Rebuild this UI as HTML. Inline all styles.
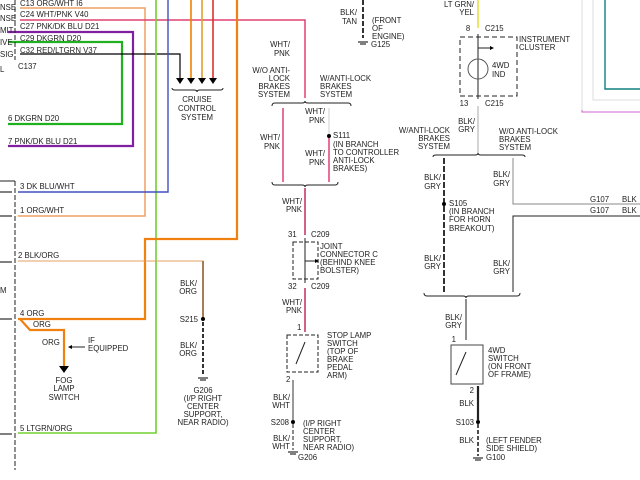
<!DOCTYPE html>
<html><head><meta charset="utf-8"><style>
html,body{margin:0;padding:0;background:#fff;}
svg{display:block;}
text{font-family:"Liberation Sans",sans-serif;font-size:7.8px;fill:#222;}
</style></head><body>
<svg width="640" height="480" viewBox="0 0 640 480" xmlns="http://www.w3.org/2000/svg">
<g fill="none" stroke-linejoin="miter">
<polyline points="20,8 145,8 145,216 18,216" stroke="#f0a060" stroke-width="1.5"/>
<polyline points="20,20 305,20 305,98" stroke="#e04070" stroke-width="1.5"/>
<polyline points="8,32 133,32 133,146 8,146" stroke="#8020a0" stroke-width="2.2"/>
<polyline points="8,42 122,42 122,124 8,124" stroke="#20b020" stroke-width="2.2"/>
<polyline points="20,54 180,54 180,78" stroke="#000" stroke-width="1.2"/>
<line x1="191" y1="0" x2="191" y2="78" stroke="#f08000" stroke-width="1.6"/>
<line x1="202" y1="0" x2="202" y2="78" stroke="#e0a030" stroke-width="1.6"/>
<line x1="213" y1="0" x2="213" y2="78" stroke="#e03030" stroke-width="1.6"/>
<polyline points="156,0 156,433 18,433" stroke="#70d030" stroke-width="1.6"/>
<polyline points="168,0 168,192 18,192" stroke="#4050c0" stroke-width="1.4"/>
<polyline points="237,0 237,239 145,239 145,319 18,319" stroke="#f08010" stroke-width="2.2"/>
<polyline points="20,319 30,330 64,330 64,368" stroke="#f08010" stroke-width="2.2"/>
<polyline points="18,261 203,261 203,319" stroke="#e0a060" stroke-width="1.1"/>
<line x1="203" y1="261" x2="203" y2="319" stroke="#906030" stroke-width="1.6"/>
<line x1="203" y1="322" x2="203" y2="374" stroke="#000" stroke-width="1.6" stroke-dasharray="4,2"/>
<line x1="85" y1="347" x2="70" y2="347" stroke="#222" stroke-width="1"/>
<polyline points="0,181 15,181" stroke="#222"/>
<line x1="15" y1="181" x2="15" y2="470" stroke="#222" stroke-dasharray="5,2"/>
<line x1="15" y1="0" x2="15" y2="60" stroke="#222" stroke-dasharray="5,2"/>
<path d="M172,88 q0,2 3,2 h19 q3,0 3,2 q0,-2 3,-2 h20 q3,0 3,-2" stroke="#222"/>
<path d="M272,106 q0,-3 3,-3 h27 q3,0 3,-2 q0,2 3,2 h40 q3,0 3,3" stroke="#222"/>
<line x1="283" y1="108" x2="283" y2="182" stroke="#e04070" stroke-width="1.5"/>
<line x1="329" y1="108" x2="329" y2="134" stroke="#ccc" stroke-width="1"/>
<line x1="329" y1="137" x2="329" y2="182" stroke="#e04070" stroke-width="1.5"/>
<path d="M272,182 q0,3 3,3 h27 q3,0 3,2 q0,-2 3,-2 h27 q3,0 3,-3" stroke="#222"/>
<line x1="305" y1="188" x2="305" y2="235" stroke="#c03060" stroke-width="1.5"/>
<rect x="293" y="242" width="25" height="37" stroke="#222" stroke-dasharray="4,2"/>
<line x1="305" y1="238" x2="305" y2="283" stroke="#222"/>
<line x1="305" y1="261" x2="315" y2="261" stroke="#222"/>
<line x1="305" y1="288" x2="305" y2="332" stroke="#c03060" stroke-width="1.5"/>
<rect x="287" y="335" width="31" height="37" stroke="#222" stroke-dasharray="4,2"/>
<line x1="305" y1="342" x2="296" y2="364" stroke="#222"/>
<line x1="293" y1="380" x2="293" y2="420" stroke="#999" stroke-width="2"/>
<line x1="293" y1="424" x2="293" y2="450" stroke="#666" stroke-width="1.5" stroke-dasharray="4,2"/>
<line x1="363" y1="0" x2="363" y2="38" stroke="#000" stroke-width="1.6" stroke-dasharray="5,2"/>
<line x1="478" y1="0" x2="478" y2="28" stroke="#e8e040" stroke-width="1.6"/>
<rect x="460" y="37" width="57" height="59" stroke="#222" stroke-dasharray="5,3"/>
<line x1="478" y1="34" x2="478" y2="99" stroke="#222"/>
<line x1="478" y1="48" x2="490" y2="48" stroke="#222"/>
<circle cx="478" cy="69" r="10" stroke="#555"/>
<line x1="478" y1="106" x2="478" y2="153" stroke="#aaa"/>
<path d="M433,157 q0,-2 3,-2 h39 q3,0 3,-2 q0,2 3,2 h41 q3,0 3,2" stroke="#222"/>
<line x1="444" y1="158" x2="444" y2="292" stroke="#000" stroke-width="1.6" stroke-dasharray="6,2"/>
<polyline points="513,158 513,204 640,204" stroke="#888"/>
<polyline points="640,216 513,216 513,292" stroke="#222"/>
<path d="M424,293 q0,3 3,3 h36 q3,0 3,2 q0,-2 3,-2 h48 q3,0 3,-3" stroke="#222"/>
<line x1="466" y1="299" x2="466" y2="340" stroke="#555" stroke-width="1.3"/>
<rect x="451" y="345" width="32" height="39" stroke="#444"/>
<line x1="466" y1="352" x2="456" y2="375" stroke="#222"/>
<line x1="478" y1="386" x2="478" y2="420" stroke="#222" stroke-width="2.2"/>
<line x1="478" y1="424" x2="478" y2="456" stroke="#222" stroke-width="1.6" stroke-dasharray="4,2"/>
<polyline points="605,0 605,89 640,89" stroke="#108080" stroke-width="1.4"/>
<polyline points="593,0 593,100 640,100" stroke="#ddd" stroke-width="1"/>
<polyline points="582,0 582,112 640,112" stroke="#d060d0" stroke-width="1"/>
<line x1="582" y1="0" x2="582" y2="110" stroke="#ddd"/>
</g>
<g fill="#000">
<polygon points="176,78 184,78 180,84"/><polygon points="187,78 195,78 191,84"/>
<polygon points="198,78 206,78 202,84"/><polygon points="209,78 217,78 213,84"/>
<polygon points="59,366 69,366 64,373"/>
<polygon points="68,347 72,345 72,349"/>
<circle cx="203" cy="319" r="2"/><circle cx="329" cy="136" r="2"/>
<circle cx="444" cy="204" r="2"/><circle cx="293" cy="422" r="2"/><circle cx="478" cy="422" r="2"/>
<polygon points="490,46 494,48 490,50"/><polygon points="315,259 319,261 315,263"/>
</g>
<g stroke="#000" stroke-width="1">
<line x1="198" y1="378" x2="208" y2="378"/><line x1="200" y1="380" x2="206" y2="380"/>
<line x1="358" y1="42" x2="368" y2="42"/><line x1="360" y1="44" x2="366" y2="44"/>
<line x1="288" y1="452" x2="298" y2="452"/><line x1="290" y1="454" x2="296" y2="454"/>
<line x1="473" y1="458" x2="483" y2="458"/><line x1="475" y1="460" x2="481" y2="460"/>
<line x1="0" y1="192" x2="12" y2="192"/><line x1="0" y1="216" x2="12" y2="216"/>
<line x1="0" y1="262" x2="12" y2="262"/><line x1="0" y1="319" x2="12" y2="319"/>
<line x1="0" y1="434" x2="12" y2="434"/>
</g>
<text x="0" y="10">NSE</text><text x="0" y="21">NSE</text><text x="0" y="33">MIT</text>
<text x="0" y="45">IVE</text><text x="0" y="57">SIG</text><text x="0" y="72">L</text>
<text x="20" y="6">C13  ORG/WHT   I6</text>
<text x="20" y="17">C24  WHT/PNK    V40</text>
<text x="20" y="29">C27  PNK/DK BLU    D21</text>
<text x="20" y="41">C29  DKGRN   D20</text>
<text x="20" y="53">C32  RED/LTGRN      V37</text>
<text x="18" y="69">C137</text>
<text x="8" y="121">6   DKGRN   D20</text>
<text x="8" y="144">7  PNK/DK BLU    D21</text>
<text x="20" y="189">3  DK BLU/WHT</text>
<text x="20" y="213">1  ORG/WHT</text>
<text x="18" y="258">2  BLK/ORG</text>
<text x="0" y="293">M</text>
<text x="20" y="316">4   ORG</text><text x="33" y="327">ORG</text>
<text x="42" y="345">ORG</text>
<text x="88" y="343">IF</text><text x="88" y="351">EQUIPPED</text>
<text x="64" y="383" text-anchor="middle">FOG</text><text x="64" y="391" text-anchor="middle">LAMP</text><text x="64" y="400" text-anchor="middle">SWITCH</text>
<text x="20" y="431">5   LTGRN/ORG</text>
<text x="197" y="102" text-anchor="middle">CRUISE</text><text x="197" y="111" text-anchor="middle">CONTROL</text><text x="197" y="120" text-anchor="middle">SYSTEM</text>
<text x="197" y="286" text-anchor="end">BLK/</text><text x="197" y="294" text-anchor="end">ORG</text>
<text x="198" y="322" text-anchor="end">S215</text>
<text x="197" y="348" text-anchor="end">BLK/</text><text x="197" y="356" text-anchor="end">ORG</text>
<text x="203" y="393" text-anchor="middle">G206</text><text x="203" y="401" text-anchor="middle">(I/P RIGHT</text>
<text x="203" y="409" text-anchor="middle">CENTER</text><text x="203" y="417" text-anchor="middle">SUPPORT,</text><text x="203" y="425" text-anchor="middle">NEAR RADIO)</text>
<text x="290" y="47" text-anchor="end">WHT/</text><text x="290" y="56" text-anchor="end">PNK</text>
<text x="290" y="73" text-anchor="end">W/O ANTI-</text><text x="290" y="81" text-anchor="end">LOCK</text><text x="290" y="89" text-anchor="end">BRAKES</text><text x="290" y="97" text-anchor="end">SYSTEM</text>
<text x="320" y="81">W/ANTI-LOCK</text><text x="320" y="89">BRAKES</text><text x="320" y="97">SYSTEM</text>
<text x="325" y="114" text-anchor="end">WHT/</text><text x="325" y="123" text-anchor="end">PNK</text>
<text x="280" y="140" text-anchor="end">WHT/</text><text x="280" y="149" text-anchor="end">PNK</text>
<text x="325" y="156" text-anchor="end">WHT/</text><text x="325" y="165" text-anchor="end">PNK</text>
<text x="333" y="138">S111</text><text x="333" y="147">(IN BRANCH</text><text x="333" y="155">TO CONTROLLER</text><text x="333" y="163">ANTI-LOCK</text><text x="333" y="171">BRAKES)</text>
<text x="302" y="204" text-anchor="end">WHT/</text><text x="302" y="212" text-anchor="end">PNK</text>
<text x="288" y="237">31</text><text x="311" y="237">C209</text>
<text x="320" y="249">JOINT</text><text x="320" y="257">CONNECTOR C</text><text x="320" y="265">(BEHIND KNEE</text><text x="320" y="273">BOLSTER)</text>
<text x="288" y="289">32</text><text x="311" y="289">C209</text>
<text x="302" y="305" text-anchor="end">WHT/</text><text x="302" y="313" text-anchor="end">PNK</text>
<text x="297" y="330">1</text>
<text x="327" y="338">STOP LAMP</text><text x="327" y="346">SWITCH</text><text x="327" y="354">(TOP OF</text><text x="327" y="362">BRAKE</text><text x="327" y="370">PEDAL</text><text x="327" y="378">ARM)</text>
<text x="286" y="382">2</text>
<text x="290" y="400" text-anchor="end">BLK/</text><text x="290" y="408" text-anchor="end">WHT</text>
<text x="289" y="425" text-anchor="end">S208</text>
<text x="290" y="441" text-anchor="end">BLK/</text><text x="290" y="449" text-anchor="end">WHT</text>
<text x="303" y="426">(I/P RIGHT</text><text x="303" y="434">CENTER</text><text x="303" y="442">SUPPORT,</text><text x="303" y="450">NEAR RADIO)</text>
<text x="298" y="460">G206</text>
<text x="357" y="15" text-anchor="end">BLK/</text><text x="357" y="24" text-anchor="end">TAN</text>
<text x="372" y="23">(FRONT</text><text x="372" y="31">OF</text><text x="372" y="39">ENGINE)</text>
<text x="371" y="47">G125</text>
<text x="474" y="7" text-anchor="end">LT GRN/</text><text x="474" y="15" text-anchor="end">YEL</text>
<text x="468" y="31" text-anchor="middle">8</text><text x="485" y="31">C215</text>
<text x="519" y="42">INSTRUMENT</text><text x="519" y="50">CLUSTER</text>
<text x="492" y="68">4WD</text><text x="492" y="77">IND</text>
<text x="464" y="106" text-anchor="middle">13</text><text x="485" y="106">C215</text>
<text x="475" y="124" text-anchor="end">BLK/</text><text x="475" y="132" text-anchor="end">GRY</text>
<text x="450" y="133" text-anchor="end">W/ANTI-LOCK</text><text x="450" y="141" text-anchor="end">BRAKES</text><text x="450" y="149" text-anchor="end">SYSTEM</text>
<text x="499" y="134">W/O ANTI-LOCK</text><text x="499" y="142">BRAKES</text><text x="499" y="150">SYSTEM</text>
<text x="441" y="180" text-anchor="end">BLK/</text><text x="441" y="189" text-anchor="end">GRY</text>
<text x="510" y="177" text-anchor="end">BLK/</text><text x="510" y="186" text-anchor="end">GRY</text>
<text x="449" y="206">S105</text><text x="449" y="214">(IN BRANCH</text><text x="449" y="222">FOR HORN</text><text x="449" y="231">BREAKOUT)</text>
<text x="590" y="202">G107</text><text x="622" y="202">BLK</text>
<text x="590" y="213">G107</text><text x="622" y="213">BLK</text>
<text x="441" y="261" text-anchor="end">BLK/</text><text x="441" y="269" text-anchor="end">GRY</text>
<text x="510" y="266" text-anchor="end">BLK/</text><text x="510" y="274" text-anchor="end">GRY</text>
<text x="462" y="320" text-anchor="end">BLK/</text><text x="462" y="328" text-anchor="end">GRY</text>
<text x="456" y="342" text-anchor="end">1</text>
<text x="488" y="353">4WD</text><text x="488" y="361">SWITCH</text><text x="488" y="369">(ON FRONT</text><text x="488" y="377">OF FRAME)</text>
<text x="474" y="393" text-anchor="end">2</text>
<text x="474" y="406" text-anchor="end">BLK</text>
<text x="474" y="425" text-anchor="end">S103</text>
<text x="474" y="443" text-anchor="end">BLK</text>
<text x="486" y="443">(LEFT FENDER</text><text x="486" y="451">SIDE SHIELD)</text>
<text x="486" y="460">G100</text>
</svg>
</body></html>
